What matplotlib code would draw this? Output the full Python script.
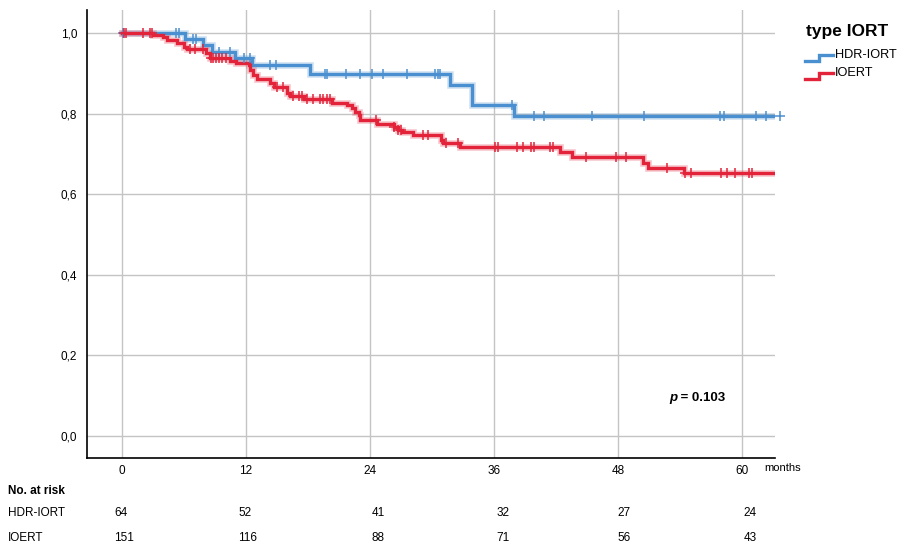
import numpy as np
import matplotlib
matplotlib.use("Agg")
import matplotlib.pyplot as plt
import matplotlib.transforms as mtransforms
from matplotlib.lines import Line2D

plt.rcParams['font.family'] = ['Liberation Sans', 'DejaVu Sans']

# Kaplan-Meier estimates: step times (months) and survival after each step
hdr_step_months = [0, 6.1, 7.9, 8.7, 11.0, 12.6, 18.2, 31.7, 33.9, 37.9]
hdr_survival = [1.0, 0.984, 0.969, 0.953, 0.937, 0.921, 0.898, 0.872, 0.821, 0.794]
hdr_last_followup = 63.6
hdr_censored = [0.1, 5.3, 5.5, 6.9, 7.2, 9.4, 10.5, 11.8, 12.4, 14.3, 14.9,
                19.7, 19.9, 21.7, 23.0, 24.2, 25.3, 27.6, 30.3, 30.6, 30.8,
                37.7, 39.9, 40.8, 45.5, 50.5, 57.8, 58.2, 61.3, 62.3, 63.6]

ioert_step_months = [0, 3.0, 4.0, 4.4, 5.4, 6.0, 6.3, 8.2, 8.5, 10.5, 11.1,
                     12.3, 12.4, 12.7, 13.1, 14.3, 14.7, 16.0, 16.3, 17.6,
                     20.3, 21.8, 22.3, 22.6, 22.9, 23.0, 24.7, 26.3, 26.7,
                     27.1, 28.2, 30.9, 31.1, 32.7, 42.4, 43.5, 50.4, 50.9, 54.4]
ioert_survival = [1.0, 0.996, 0.990, 0.983, 0.974, 0.966, 0.960, 0.950, 0.937,
                  0.930, 0.925, 0.921, 0.908, 0.896, 0.886, 0.875, 0.867, 0.850,
                  0.844, 0.835, 0.826, 0.821, 0.813, 0.805, 0.797, 0.784, 0.774,
                  0.767, 0.759, 0.755, 0.747, 0.734, 0.726, 0.716, 0.705, 0.692,
                  0.678, 0.664, 0.652]
ioert_last_followup = 63.3
ioert_censored = [0.2, 0.4, 2.1, 2.7, 2.9, 6.6, 7.1, 7.9, 8.6, 8.8, 9.1, 9.4,
                  9.7, 10.1, 15.0, 15.6, 16.6, 17.1, 17.4, 17.9, 18.5, 19.2,
                  19.5, 19.9, 20.1, 24.6, 26.3, 26.7, 27.0, 29.1, 29.6, 31.4,
                  32.5, 36.1, 36.4, 38.2, 38.8, 39.6, 39.9, 41.4, 41.7, 44.9,
                  47.8, 48.8, 52.7, 54.5, 55.0, 57.9, 58.5, 59.3, 60.6, 60.9]

group_names = ['HDR-IORT', 'IOERT']
group_colors = ['#4a8fcf', '#e2233a']

risk_months = [0, 12, 24, 36, 48, 60]
hdr_at_risk = [64, 52, 41, 32, 27, 24]
ioert_at_risk = [151, 116, 88, 71, 56, 43]

y_ticks = [0.0, 0.2, 0.4, 0.6, 0.8, 1.0]
p_value = 0.103

fig = plt.figure(figsize=(9.03, 5.45), dpi=100)
ax = fig.add_axes([0.0963, 0.1596, 0.7619, 0.8221])


def survival_at(times, steps, surv):
    idx = np.searchsorted(steps, times, side='right') - 1
    return np.asarray(surv)[idx]


curves = [
    (hdr_step_months, hdr_survival, hdr_last_followup, hdr_censored),
    (ioert_step_months, ioert_survival, ioert_last_followup, ioert_censored),
]
for (steps, surv, last, cens), color in zip(curves, group_colors):
    xs = list(steps) + [last]
    ys = list(surv) + [surv[-1]]
    ax.step(xs, ys, where='post', color=color, lw=4.8, alpha=0.25,
            solid_joinstyle='miter', zorder=3)
    ax.step(xs, ys, where='post', color=color, lw=2.4,
            solid_joinstyle='miter', zorder=4)
    cens = np.asarray(cens)
    ax.plot(cens, survival_at(cens, steps, surv), ls='none', marker='+',
            ms=7, mew=1.1, color=color, zorder=5, clip_on=False)

ax.set_xlim(-3.35, 63.15)
ax.set_ylim(-0.055, 1.057)
ax.set_xticks(risk_months)
ax.set_yticks(y_ticks)
ax.set_yticklabels([f'{v:.1f}'.replace('.', ',') for v in y_ticks])
ax.tick_params(axis='both', length=0, labelsize=8.5, colors='black')
ax.tick_params(axis='x', pad=5)
ax.tick_params(axis='y', pad=7)
ax.grid(True, color='#c4c4c4', lw=1.0, zorder=1)
ax.set_axisbelow(True)
for side in ['top', 'right']:
    ax.spines[side].set_visible(False)
for side in ['left', 'bottom']:
    ax.spines[side].set_linewidth(1.2)
    ax.spines[side].set_color('black')

# axis unit label to the right of the last tick
x_unit = mtransforms.blended_transform_factory(ax.transData, ax.transAxes)
ax.text(62.1, -0.012, 'months', transform=x_unit, ha='left',
        va='top', fontsize=8, clip_on=False)

# p-value annotation
p_txt = ax.text(52.9, 0.094, 'p', fontsize=9.5, fontweight='bold',
                style='italic', ha='left', va='center')
ax.annotate(f' = {p_value:.3f}', xy=(1, 0.5), xycoords=p_txt,
            fontsize=9.5, fontweight='bold', ha='left', va='center')

# legend with step-shaped keys
fig.text(0.8925, 0.942, 'type IORT', fontsize=12.5, fontweight='bold',
         ha='left', va='center')
key_rows = [0.899, 0.866]
for name, color, yk in zip(group_names, group_colors, key_rows):
    kx = [0.8915, 0.9075, 0.9075, 0.9225]
    ky = [yk - 0.011, yk - 0.011, yk, yk]
    fig.add_artist(Line2D(kx, ky, color=color, lw=2.4,
                          solid_joinstyle='miter',
                          transform=fig.transFigure))
    fig.text(0.925, yk, name, fontsize=9.2, ha='left', va='center')

# number-at-risk table
fig.text(0.009, 0.099, 'No. at risk', fontsize=8.5, fontweight='bold',
         ha='left', va='center')
risk_rows = [(group_names[0], hdr_at_risk, 0.0587),
             (group_names[1], ioert_at_risk, 0.0128)]
blend = mtransforms.blended_transform_factory(ax.transData, fig.transFigure)
label_shift = [-0.7, -0.75, 0.2, 0.2, -0.1, 0.1]
for name, counts, yr in risk_rows:
    fig.text(0.009, yr, name, fontsize=8.5, ha='left', va='center')
    for m, n, dx in zip(risk_months, counts, label_shift):
        ax.text(m + dx, yr, str(n), transform=blend, fontsize=8.5,
                ha='left', va='center', clip_on=False)

fig.savefig('out.png', dpi=100)
